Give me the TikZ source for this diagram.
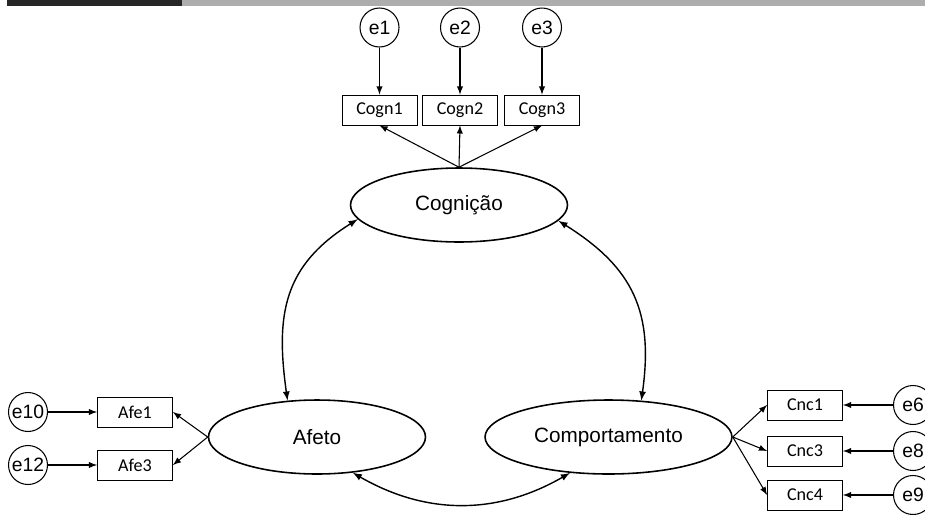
\documentclass[tikz,border=0pt]{standalone}
\usepackage{fontspec}
\setmainfont{Liberation Sans}
\newfontfamily\boxfont{Carlito}
\usetikzlibrary{shapes.geometric}

\begin{document}
\begin{tikzpicture}[>=latex, x=0.02cm, y=-0.02cm,
    fator/.style={draw, ellipse, line width=0.9pt, minimum width=4.34cm, minimum height=1.48cm, inner sep=0pt, font=\fontsize{11.8}{14}\selectfont},
    item/.style={draw, line width=0.5pt, minimum width=1.5cm, minimum height=0.6cm, inner sep=0pt, font=\boxfont\fontsize{10.3}{12}\selectfont},
    erro/.style={draw, circle, line width=0.6pt, minimum size=0.78cm, inner sep=0pt, font=\fontsize{11}{13}\selectfont},
    seta/.style={->, line width=0.6pt}]
    % 1. Moldura
    \useasboundingbox (0,0) rectangle (925,514);
    \clip (0,0) rectangle (925,514);
    \fill[black!85] (7,0) rectangle (182,6);
    \fill[black!32] (182,0) rectangle (925,6);

    % 2. Variáveis latentes
    \node[fator] (cog) at (459,205) {Cognição};
    \node[fator] (afe) at (317,437) {Afeto};
    \node[fator, minimum width=4.94cm] (comp) at (608.5,437) {Comportamento};

    % 3. Indicadores
    \node[item] (cogn1) at (379.5,110) {Cogn1};
    \node[item] (cogn2) at (460,110) {Cogn2};
    \node[item] (cogn3) at (542,110) {Cogn3};
    \node[item] (afe1) at (135,412) {Afe1};
    \node[item] (afe3) at (135,465) {Afe3};
    \node[item] (cnc1) at (805,405) {Cnc1};
    \node[item] (cnc3) at (805,451) {Cnc3};
    \node[item] (cnc4) at (805,495) {Cnc4};

    % 4. Erros
    \node[erro] (e1) at (379.5,27.5) {e1};
    \node[erro] (e2) at (460,27.5) {e2};
    \node[erro] (e3) at (542,27.5) {e3};
    \node[erro] (e10) at (28,412) {e10};
    \node[erro] (e12) at (28,465) {e12};
    \node[erro] (e6) at (913,405) {e6};
    \node[erro] (e8) at (913,451) {e8};
    \node[erro] (e9) at (913,495) {e9};

    % 5. Setas
    \draw[seta] (e1) -- (cogn1);
    \draw[seta] (e2) -- (cogn2);
    \draw[seta] (e3) -- (cogn3);
    \draw[seta] (e10) -- (afe1);
    \draw[seta] (e12) -- (afe3);
    \draw[seta] (e6) -- (cnc1);
    \draw[seta] (e8) -- (cnc3);
    \draw[seta] (e9) -- (cnc4);
    \foreach \i in {cogn1,cogn2,cogn3}
        \draw[seta] (cog.north) -- (\i.south);
    \foreach \i in {afe1,afe3}
        \draw[seta] (afe.west) -- (\i.east);
    \foreach \i in {cnc1,cnc3,cnc4}
        \draw[seta] (comp.east) -- (\i.west);

    % 6. Covariâncias
    \draw[<->, line width=0.8pt] (cog.188) to[out=212, in=98, looseness=1.15] (afe.129);
    \draw[<->, line width=0.8pt] (cog.-9) to[out=-32, in=82, looseness=1.15] (comp.48);
    \draw[<->, line width=0.8pt] (afe.-45) to[out=-30, in=-150] (comp.223);
\end{tikzpicture}
\end{document}
